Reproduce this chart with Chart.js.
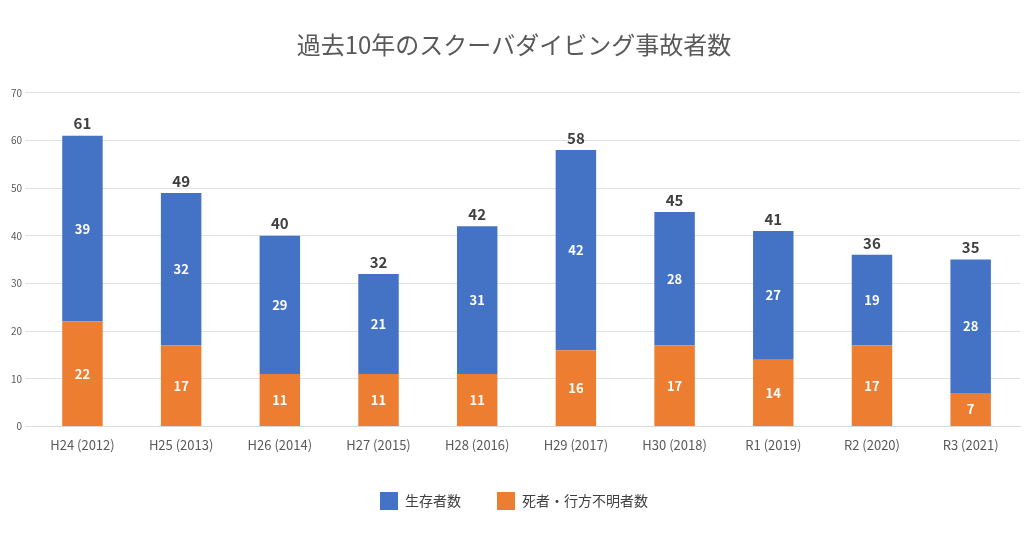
<!DOCTYPE html>
<html><head><meta charset="utf-8">
<script src="https://cdn.jsdelivr.net/npm/chart.js@4"></script>
<style>html,body{margin:0;background:#fff}#w{width:1024px;height:538px}</style>
</head><body><div id="w"><canvas id="c"></canvas></div>
<script>
const categories=["H24 (2012)","H25 (2013)","H26 (2014)","H27 (2015)","H28 (2016)","H29 (2017)","H30 (2018)","R1 (2019)","R2 (2020)","R3 (2021)"];
const deaths=[22,17,11,11,11,16,17,14,17,7];
const survivors=[39,32,29,21,31,42,28,27,19,28];
const totals=categories.map((_,i)=>deaths[i]+survivors[i]);
const F="'Noto Sans CJK JP','Noto Sans',sans-serif";
const labels={id:'labels',afterDatasetsDraw(ch){const x=ch.ctx;x.save();x.textAlign='center';x.textBaseline='middle';
ch.data.datasets.forEach((d,di)=>{ch.getDatasetMeta(di).data.forEach((b,i)=>{x.fillStyle='#fff';x.font='bold 13px '+F;x.fillText(d.data[i],b.x,(b.y+b.base)/2);});});
const m=ch.getDatasetMeta(1);m.data.forEach((b,i)=>{x.fillStyle='#404040';x.font='bold 15px '+F;x.fillText(totals[i],b.x,b.y-12);});x.restore();}};
new Chart(document.getElementById('c'),{type:'bar',
data:{labels:categories,datasets:[
{label:'死者・行方不明者数',data:deaths,backgroundColor:'#ED7D31'},
{label:'生存者数',data:survivors,backgroundColor:'#4472C4'}]},
options:{responsive:true,maintainAspectRatio:false,animation:false,
layout:{padding:{left:8,right:4,top:18,bottom:18}},
datasets:{bar:{barPercentage:0.41,categoryPercentage:1}},
scales:{x:{stacked:true,grid:{display:false},border:{color:'#d9d9d9'},ticks:{color:'#595959',font:{size:13,family:F}}},
y:{stacked:true,min:0,max:70,ticks:{stepSize:10,color:'#595959',font:{size:10,family:F}},grid:{color:'#e0e0e0'},border:{display:false}}},
plugins:{title:{display:true,text:'過去10年のスクーバダイビング事故者数',color:'#595959',font:{size:24,family:F,weight:'normal'},padding:{top:12,bottom:34}},
legend:{position:'bottom',reverse:true,labels:{boxWidth:18,boxHeight:18,padding:36,color:'#404040',font:{size:14,family:F}}},tooltip:{enabled:false}}},
plugins:[labels]});
</script></body></html>
